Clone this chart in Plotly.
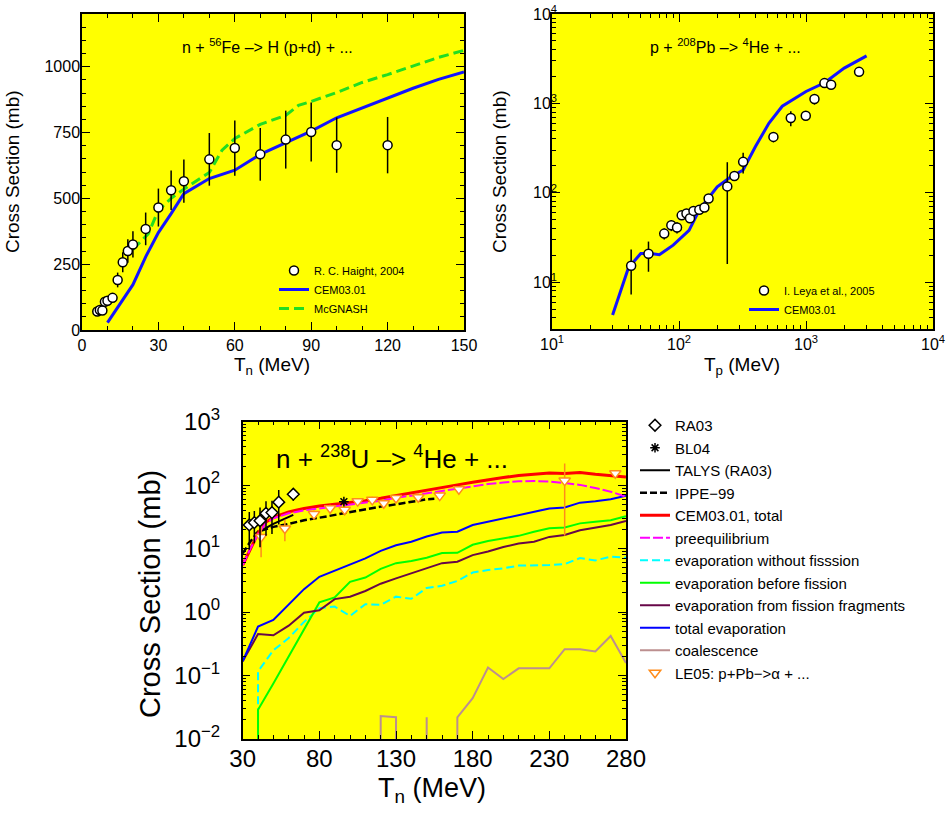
import plotly.graph_objects as go

# ---- top left: n + 56Fe -> H (p+d) + ...
haight_t = [6, 7, 8, 9, 10, 12, 14, 16, 18, 20, 25, 30, 35, 40, 50, 60, 70, 80, 90, 100, 120]
haight_xs = [70, 76, 74, 107, 111, 122, 190, 257, 300, 325, 384, 465, 531, 565, 648, 691, 667, 723, 752, 702, 702]
haight_err = [8, 8, 8, 12, 12, 14, 28, 38, 45, 50, 62, 72, 75, 82, 100, 105, 100, 110, 112, 105, 107]

fe_cem_t = [10, 20, 25, 30, 35, 40, 50, 60, 70, 80, 90, 100, 110, 120, 130, 140, 150]
fe_cem_xs = [28, 172, 278, 370, 442, 518, 575, 607, 667, 712, 755, 806, 844, 882, 918, 952, 980]

fe_mcg_t = [20, 26, 30, 35, 40, 45, 50, 55, 60, 70, 80, 85, 90, 100, 110, 120, 130, 140, 150]
fe_mcg_xs = [306, 365, 455, 500, 535, 565, 598, 683, 727, 781, 815, 853, 868, 902, 940, 970, 1003, 1035, 1062]

# ---- top right: p + 208Pb -> 4He + ...  (also LE05 in the bottom panel)
leya_t = [42, 57.5, 76.5, 87, 96.5, 105, 114.5, 122, 130, 144.5, 158.5, 171, 240, 273,
          320, 554, 759, 996, 1166, 1397, 1577, 2618]
leya_xs = [15.3, 20.8, 35, 43.3, 41, 56, 58.7, 52, 62.8, 64.5, 68.5, 86.5, 118, 154,
           222, 422, 687, 729, 1119, 1687, 1616, 2254]
leya_err = [8, 7.7, 5, 6, 6, 6, 7, 6, 6, 6, 7, 9, 102, 15, 58, 55, 130, 60, 150, 150, 150, 200]

pb_cem_t = [30, 40, 50, 60, 70, 90, 120, 145, 170, 200, 250, 320, 400, 510, 650, 1000, 1400, 2000, 3000]
pb_cem_xs = [4.3, 14.5, 21, 21, 20.3, 26, 38, 65, 87, 117, 147, 180, 330, 600, 930, 1360, 1700, 2480, 3400]

# ---- bottom: n + 238U -> 4He + ...
ra03_t = [34.3, 37.6, 41.3, 45.2, 49.1, 53.5, 63]
ra03_xs = [23.6, 25.7, 27.5, 36, 37, 54, 72]
ra03_err = [14, 13.5, 17, 20, 20, 30, 15]

bl04_t = [96]
bl04_xs = [55]

talys_t = [38, 50, 63]
talys_xs = [17, 24.5, 34]

ippe_t = [30, 35, 40, 50, 60, 70, 80, 90, 100, 110, 120, 130, 140, 150, 155]
ippe_xs = [8.4, 12.9, 18.5, 22, 24.5, 28, 30.7, 33.9, 38.3, 42.2, 45.9, 49.9, 55, 59.8, 61]

cem_t = [30, 35, 40, 45, 50, 60, 70, 80, 90, 100, 110, 120, 130, 140, 150, 160, 170,
         180, 190, 200, 210, 220, 230, 240, 250, 260, 270, 280]
cem_total = [5.5, 10, 17.5, 26, 31, 38, 43, 47, 50, 53, 57, 62, 68, 75, 83, 92, 101,
             111, 122, 132, 142, 150, 155, 152, 158, 148, 141, 134]
cem_preeq = [5.5, 10, 17, 25, 30, 36, 40, 43, 46, 49, 53, 57, 63, 68, 74, 81, 88,
             96, 104, 110, 115, 116, 114, 108, 101, 90, 79, 66]

evap_t = [30, 40, 50, 60, 70, 80, 90, 100, 110, 120, 130, 140, 150, 160, 170, 180, 190,
          200, 210, 220, 230, 240, 250, 260, 270, 280]
evap_nofis = [0, 0.116, 0.25, 0.39, 0.7, 1.15, 1.22, 0.87, 1.33, 1.3, 1.75, 1.62, 2.4,
              2.6, 3.1, 4.2, 4.6, 4.9, 5.4, 5.4, 5.5, 5.7, 7.1, 6.5, 7.5, 7.2]
evap_before = [0, 0.029, 0.075, 0.2, 0.52, 1.42, 1.7, 3.0, 3.5, 4.8, 5.9, 6.4, 7.2,
               8.5, 8.6, 11.5, 13.2, 14.4, 15.9, 18.5, 21, 21.5, 25, 26.6, 28, 32.5]
evap_frag = [0.168, 0.45, 0.43, 0.61, 0.98, 1.07, 1.6, 1.75, 2.15, 2.8, 3.4, 4.1, 4.9,
             5.9, 6.2, 7.9, 9, 10.6, 12, 12.8, 15.3, 16.4, 19.5, 21.3, 23.5, 27.3]
evap_total = [0.168, 0.59, 0.75, 1.3, 2.3, 3.6, 4.5, 5.6, 7.0, 9.2, 11.3, 12.8, 15.5,
              18, 18.5, 23.5, 26.5, 29.5, 33.5, 37.5, 43, 44.5, 53, 56, 60, 68]
coalescence = [0, 0, 0, 0, 0, 0, 0, 0, 0, 0.023, 0.022, 0, 0.022, 0, 0.022, 0.044,
               0.134, 0.088, 0.13, 0.13, 0.13, 0.26, 0.26, 0.24, 0.42, 0.157]

dec_vals = [0.01, 0.1, 1, 10, 100, 1000, 10000]
dec_text = ['10<sup>\u22122</sup>', '10<sup>\u22121</sup>', '10<sup>0</sup>', '10<sup>1</sup>',
            '10<sup>2</sup>', '10<sup>3</sup>', '10<sup>4</sup>']

W, H = 946, 817
FONT = "Liberation Sans, Arial, sans-serif"


def px(x):
    return x / W


def py(y):
    return 1 - y / H


def frame(size, standoff, **kw):
    d = dict(showline=True, linecolor='black', linewidth=1.5, mirror='allticks',
             ticks='inside', ticklen=8, tickwidth=1.2, tickcolor='black',
             showgrid=False, zeroline=False, ticklabelstandoff=standoff, automargin=False,
             tickfont=dict(size=size, color='black', family=FONT))
    d.update(kw)
    return d


def minor(dt):
    return dict(ticks='inside', ticklen=4, tickwidth=1, tickcolor='black', dtick=dt, showgrid=False)


fig = go.Figure()

# top left
fig.add_trace(go.Scatter(x=fe_mcg_t, y=fe_mcg_xs, mode='lines', name='McGNASH',
                         line=dict(color='#22dd22', width=3, dash='10px,5px'),
                         xaxis='x', yaxis='y', legend='legend2', legendrank=3))
fig.add_trace(go.Scatter(x=fe_cem_t, y=fe_cem_xs, mode='lines', name='CEM03.01',
                         line=dict(color='#1414ff', width=3),
                         xaxis='x', yaxis='y', legend='legend2', legendrank=2))
fig.add_trace(go.Scatter(x=haight_t, y=haight_xs, mode='markers', name='R. C. Haight, 2004',
                         marker=dict(symbol='circle', size=9, color='white',
                                     line=dict(color='black', width=1.5)),
                         error_y=dict(type='data', array=haight_err, color='black', thickness=1.5, width=0),
                         xaxis='x', yaxis='y', legend='legend2', legendrank=1))

# top right
fig.add_trace(go.Scatter(x=pb_cem_t, y=pb_cem_xs, mode='lines', name='CEM03.01',
                         line=dict(color='#1414ff', width=3),
                         xaxis='x2', yaxis='y2', legend='legend3', legendrank=2))
fig.add_trace(go.Scatter(x=leya_t, y=leya_xs, mode='markers', name='I. Leya et al., 2005',
                         marker=dict(symbol='circle', size=9, color='white',
                                     line=dict(color='black', width=1.5)),
                         error_y=dict(type='data', array=leya_err, color='black', thickness=1.5, width=0),
                         xaxis='x2', yaxis='y2', legend='legend3', legendrank=1))

# bottom
lines = [
    ('coalescence', evap_t, coalescence, dict(color='#BC8F8F', width=2), 11),
    ('evaporation without fisssion', evap_t, evap_nofis, dict(color='#00FFFF', width=2, dash='8px,4px'), 7),
    ('evaporation before fission', evap_t, evap_before, dict(color='#00FF00', width=2), 8),
    ('evaporation from fission fragments', evap_t, evap_frag, dict(color='#670748', width=2), 9),
    ('total evaporation', evap_t, evap_total, dict(color='#0000FF', width=2), 10),
    ('TALYS (RA03)', talys_t, talys_xs, dict(color='black', width=2), 3),
    ('IPPE\u221299', ippe_t, ippe_xs, dict(color='black', width=2.5, dash='7px,3px'), 4),
    ('CEM03.01, total', cem_t, cem_total, dict(color='#FF0000', width=3), 5),
    ('preequilibrium', cem_t, cem_preeq, dict(color='#FF00FF', width=2, dash='10px,3px'), 6),
]
for name, xs, ys, ln, rank in lines:
    fig.add_trace(go.Scatter(x=xs, y=ys, mode='lines', name=name, line=ln,
                             xaxis='x3', yaxis='y3', legend='legend', legendrank=rank))

le_t = [t for t in leya_t if t <= 280]
le_xs = [v for t, v in zip(leya_t, leya_xs) if t <= 280]
le_err = [e for t, e in zip(leya_t, leya_err) if t <= 280]
fig.add_trace(go.Scatter(x=le_t, y=le_xs, mode='markers', name='LE05: p+Pb\u2212>\u03b1 + ...',
                         marker=dict(symbol='triangle-down', size=10, color='white',
                                     line=dict(color='#FF8C1A', width=1.5)),
                         error_y=dict(type='data', array=le_err, color='#FF8C1A', thickness=1.5, width=0),
                         xaxis='x3', yaxis='y3', legend='legend', legendrank=12))
fig.add_trace(go.Scatter(x=ra03_t, y=ra03_xs, mode='markers', name='RA03',
                         marker=dict(symbol='diamond', size=9, color='white',
                                     line=dict(color='black', width=1.5)),
                         error_y=dict(type='data', array=ra03_err, color='black', thickness=1.5, width=0),
                         xaxis='x3', yaxis='y3', legend='legend', legendrank=1))
fig.add_trace(go.Scatter(x=bl04_t, y=bl04_xs, mode='markers', name='BL04',
                         marker=dict(symbol='asterisk-open', size=8, color='black',
                                     line=dict(color='black', width=1.5)),
                         xaxis='x3', yaxis='y3', legend='legend', legendrank=2))

fig.update_layout(
    width=W, height=H, autosize=False,
    margin=dict(l=0, r=0, t=0, b=0, autoexpand=False),
    paper_bgcolor='white', plot_bgcolor='#FFFF00',
    font=dict(family=FONT, color='black'),
    xaxis=frame(16, 0, domain=[px(82), px(464)], range=[0, 150], tick0=0, dtick=30,
                minor=minor(10), anchor='y'),
    yaxis=frame(16, -3, domain=[py(330), py(14)], range=[0, 1200], tick0=0, dtick=250,
                minor=minor(50), anchor='x'),
    xaxis2=frame(16, 0, domain=[px(552), px(933)], type='log', range=[1, 4],
                 tickmode='array', tickvals=dec_vals[3:], ticktext=dec_text[3:],
                 minor=minor('D1'), anchor='y2'),
    yaxis2=frame(16, -10, domain=[py(329), py(14)], type='log', range=[0.477, 4],
                 tickmode='array', tickvals=dec_vals[3:], ticktext=dec_text[3:],
                 minor=minor('D1'), anchor='x2'),
    xaxis3=frame(24, -3, domain=[px(242.7), px(626)], range=[30, 280], tick0=30, dtick=50,
                 minor=minor(10), anchor='y3'),
    yaxis3=frame(24, 16, domain=[py(739), py(421.7)], type='log', range=[-2, 3],
                 tickmode='array', tickvals=dec_vals[:6], ticktext=dec_text[:6],
                 minor=minor('D1'), anchor='x3'),
    legend=dict(x=px(635), y=py(409), xanchor='left', yanchor='top',
                bgcolor='rgba(0,0,0,0)', font=dict(size=15, family=FONT),
                tracegroupgap=0, itemwidth=30),
    legend2=dict(x=px(274), y=py(256), xanchor='left', yanchor='top',
                 bgcolor='rgba(0,0,0,0)', font=dict(size=11, family=FONT),
                 tracegroupgap=0, itemwidth=30),
    legend3=dict(x=px(744), y=py(276), xanchor='left', yanchor='top',
                 bgcolor='rgba(0,0,0,0)', font=dict(size=11, family=FONT),
                 tracegroupgap=0, itemwidth=30),
)

notes = [
    ('Cross Section (mb)', 12, 172, 19, -90),
    ('T<sub>n</sub> (MeV)', 272, 366, 19, 0),
    ('Cross Section (mb)', 499, 172, 19, -90),
    ('T<sub>p</sub> (MeV)', 742, 366, 19, 0),
    ('Cross Section (mb)', 150, 594, 29, -90),
    ('T<sub>n</sub> (MeV)', 432, 790, 27, 0),
    ('n + <sup>56</sup>Fe \u2013> H (p+d) + ...', 267, 46, 16, 0),
    ('p + <sup>208</sup>Pb \u2013> <sup>4</sup>He + ...', 725, 46, 16, 0),
    ('n + <sup>238</sup>U \u2013> <sup>4</sup>He + ...', 392, 457, 26, 0),
]
for text, x, y, size, ang in notes:
    fig.add_annotation(text=text, xref='paper', yref='paper', x=px(x), y=py(y),
                       xanchor='center', yanchor='middle', showarrow=False,
                       textangle=ang, font=dict(size=size, family=FONT, color='black'))

# the page body has a default 8px margin; drop it so the figure sits at the corner
fig.write_html("out.html", config={'displayModeBar': False},
               post_script="document.body.style.margin='0px';")
